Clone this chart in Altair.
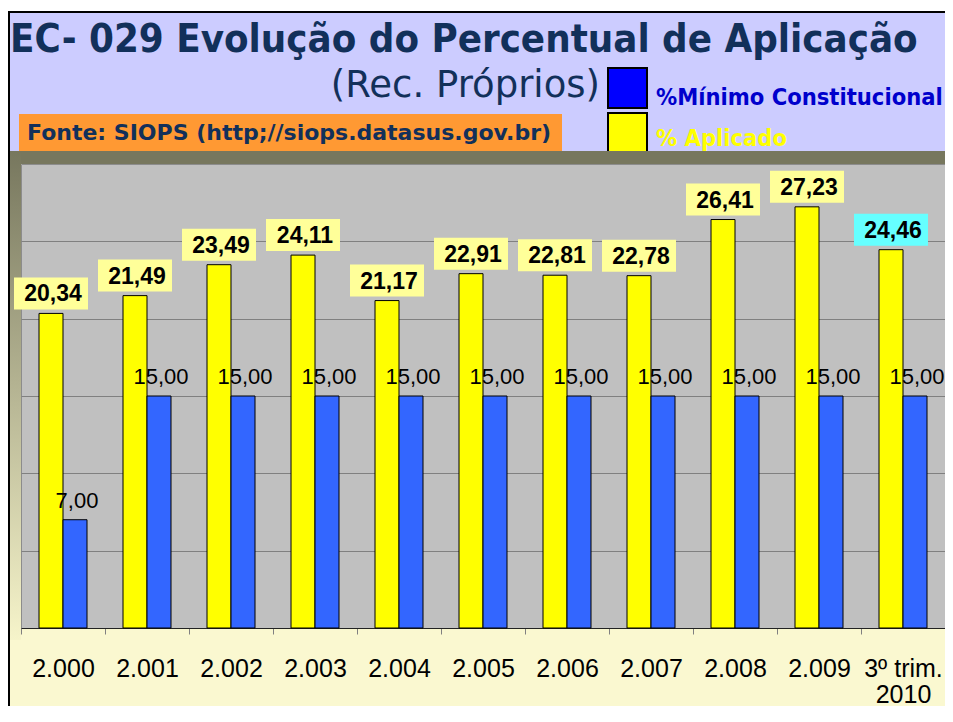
import altair as alt
import pandas as pd

# ---------------- data ----------------
anos = ["2.000", "2.001", "2.002", "2.003", "2.004", "2.005",
        "2.006", "2.007", "2.008", "2.009", "3º trim. 2010"]
aplicado = [20.34, 21.49, 23.49, 24.11, 21.17, 22.91, 22.81, 22.78, 26.41, 27.23, 24.46]
minimo = [7.00, 15.00, 15.00, 15.00, 15.00, 15.00, 15.00, 15.00, 15.00, 15.00, 15.00]
S_APL = "% Aplicado"
S_MIN = "%Mínimo Constitucional"
series = [S_APL, S_MIN]

titulo = "EC- 029 Evolução do Percentual de Aplicação"
subtitulo = "(Rec. Próprios)"
fonte = "Fonte: SIOPS (http;//siops.datasus.gov.br)"

rows = []
for a, v in zip(anos, aplicado):
    rows.append({"ano": a, "serie": S_APL, "valor": v})
for a, v in zip(anos, minimo):
    rows.append({"ano": a, "serie": S_MIN, "valor": v})
df = pd.DataFrame(rows)

# ---------------- layout ----------------
W, H = 924, 464
LEFT, TOP, RIGHT, BOTTOM = 13, 156, 0, 78


def px(x):
    return x - 8 - LEFT


def py(y):
    return y - 8 - TOP


NAVY = "#12305A"
CFONT = "DejaVu Sans Condensed, DejaVu Sans"
SFONT = "DejaVu Sans"

last = anos[-1]
label_expr = f"datum.label == '{last}' ? ['3º trim.', '2010'] : datum.label"

x = alt.X("ano:N", sort=anos,
          scale=alt.Scale(paddingInner=0, paddingOuter=0),
          axis=alt.Axis(title=None, labelAngle=0, labelFont="Liberation Sans",
                        labelFontSize=25, labelColor="black", labelPadding=22,
                        labelLineHeight=26, tickBand="extent", tickSize=6,
                        tickColor="#808080", domainColor="#222222",
                        labelExpr=label_expr))
xo = alt.XOffset("serie:N", sort=series,
                 scale=alt.Scale(paddingInner=0, paddingOuter=0.75))
y = alt.Y("valor:Q", scale=alt.Scale(domain=[0, 30], nice=False),
          axis=alt.Axis(title=None, labels=False, ticks=False, domain=False,
                        grid=True, values=[5, 10, 15, 20, 25],
                        gridColor="#808080", gridWidth=1))

base = alt.Chart(df).transform_calculate(
    rotulo="replace(format(datum.valor, '.2f'), '.', ',')"
)

bars = base.mark_bar(stroke="black", strokeWidth=1).encode(
    x=x, xOffset=xo, y=y,
    color=alt.Color("serie:N", sort=series,
                    scale=alt.Scale(domain=series, range=["#FFFF00", "#3366FF"]),
                    legend=None),
)

blue_lbl = base.transform_filter(alt.datum.serie == S_MIN).mark_text(
    font="Liberation Sans", fontSize=22, color="black",
    baseline="alphabetic", dy=-12, dx=2
).encode(x=x, xOffset=xo, y=y, text="rotulo:N")

box_path = "M-1,-0.4324L1,-0.4324L1,0.4324L-1,0.4324Z"
yel_box = base.transform_filter(alt.datum.serie == S_APL).mark_point(
    shape=box_path, size=74 * 74, filled=True, opacity=1, strokeWidth=0, yOffset=-20
).encode(
    x=x, xOffset=xo, y=y,
    color=alt.condition(alt.datum.ano == last, alt.value("#66FFFF"), alt.value("#FFFF99")),
)
yel_lbl = base.transform_filter(alt.datum.serie == S_APL).mark_text(
    font="Liberation Sans", fontWeight="bold", fontSize=23, color="black",
    baseline="middle", dy=-19, dx=2
).encode(x=x, xOffset=xo, y=y, text="rotulo:N")

one = alt.Data(values=[{"k": 1}])


def rect(x1, x2, y1, y2, **kw):
    return alt.Chart(one).mark_rect(**kw).encode(
        x=alt.value(px(x1)), x2=alt.value(px(x2)),
        y=alt.value(py(y1)), y2=alt.value(py(y2)))


def txt(t, xx, yy, **kw):
    return alt.Chart(one).mark_text(text=t, **kw).encode(
        x=alt.value(px(xx)), y=alt.value(py(yy)))


grad = alt.Gradient(gradient="linear",
                    stops=[alt.GradientStop(color="#77775E", offset=0),
                           alt.GradientStop(color="#F6F4CA", offset=1)],
                    x1=0, x2=0, y1=0, y2=1)

deco = [
    rect(8, 953, 8, 11, color="white"),
    rect(8, 953, 11, 13, color="black"),
    rect(10, 953, 13, 151, color="#CCCCFF"),
    rect(8, 10, 11, 722, color="black"),
    rect(608, 647, 68, 108, color="#0000FF", stroke="black", strokeWidth=2),
    rect(608, 647, 113, 155, color="#FFFF00", stroke="black", strokeWidth=2),
    rect(19, 562, 114, 151, color="#FF9933"),
    rect(10, 953, 151, 164, color="#77775E"),
    rect(10, 21, 151, 640, color=grad),
    txt(titulo, 10, 52, align="left", baseline="alphabetic", font=CFONT,
        fontWeight="bold", fontSize=39.8, color=NAVY),
    txt(subtitulo, 600, 97, align="right", baseline="alphabetic", font=SFONT,
        fontSize=37, color=NAVY),
    txt(S_MIN, 656, 105, align="left", baseline="alphabetic", font=CFONT,
        fontWeight="bold", fontSize=23.5, color="#0000CC"),
    txt(S_APL, 656, 146, align="left", baseline="alphabetic", font=CFONT,
        fontWeight="bold", fontSize=23.5, color="#FFFF00"),
    txt(fonte, 27, 140, align="left", baseline="alphabetic", font=SFONT,
        fontWeight="bold", fontSize=22, color=NAVY),
]

chart = alt.layer(*deco, bars, blue_lbl, yel_box, yel_lbl).properties(
    width=W, height=H,
    padding={"left": LEFT, "top": TOP, "right": RIGHT, "bottom": BOTTOM},
    autosize=alt.AutoSizeParams(type="none"),
    background="#FAF8D0",
).configure_view(fill="#C0C0C0", stroke="#8C8C8C", strokeWidth=1)

chart.save("out.html", embed_options={"renderer": "svg", "actions": False})
